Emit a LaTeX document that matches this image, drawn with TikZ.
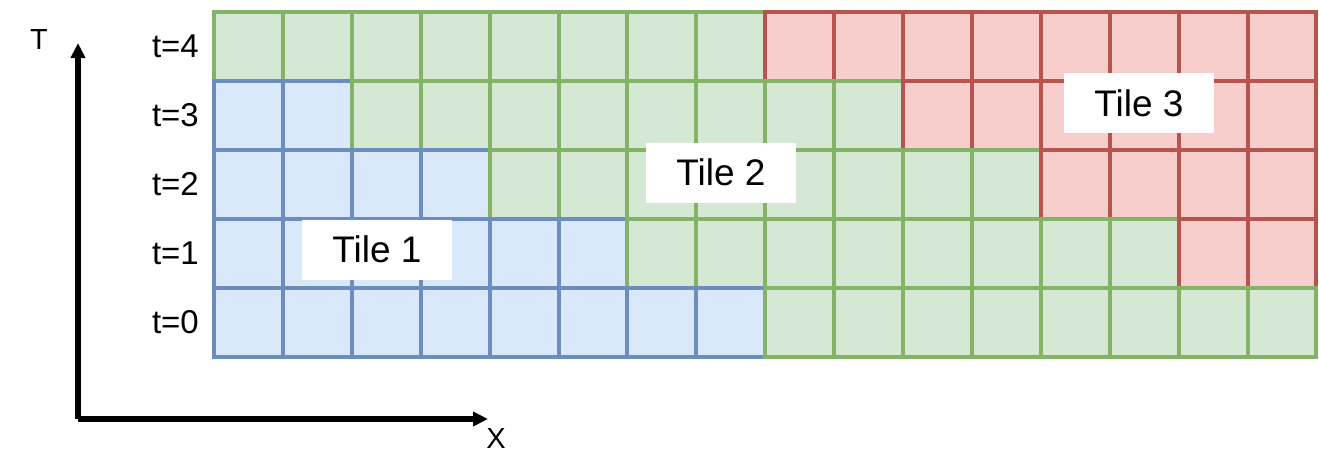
\documentclass[tikz,border=0pt]{standalone}
\usepackage{fontspec}
\setmainfont{Liberation Sans}
\usetikzlibrary{arrows.meta}
\definecolor{gfill}{HTML}{D5E8D4}
\definecolor{gline}{HTML}{82B366}
\definecolor{bfill}{HTML}{DAE8FC}
\definecolor{bline}{HTML}{6C8EBF}
\definecolor{rfill}{HTML}{F8CECC}
\definecolor{rline}{HTML}{B85450}
\tikzset{
  cellbase/.style={line width=4pt},
  bluecell/.style={cellbase, fill=bfill, draw=bline},
  greencell/.style={cellbase, fill=gfill, draw=gline},
  redcell/.style={cellbase, fill=rfill, draw=rline},
  tilelabel/.style={fill=white, minimum width=150pt, minimum height=60pt, inner sep=0pt, font=\fontsize{37}{40}\selectfont},
  rowlabel/.style={anchor=east, inner sep=0pt, font=\fontsize{33}{36}\selectfont},
  axislabel/.style={inner sep=0pt, font=\fontsize{29}{32}\selectfont},
  axis/.style={line width=6pt, line join=round, -{Triangle[length=15pt,width=14pt]}}
}
\begin{document}
\begin{tikzpicture}[x=1pt, y=-1pt]
\useasboundingbox (0,0) rectangle (1319,453);
\def\xo{214}\def\yo{12}\def\cw{68.9}\def\ch{69}
\foreach \r/\a/\b/\s in {
  0/0/7/greencell, 0/8/15/redcell,
  1/0/1/bluecell, 1/2/9/greencell, 1/10/15/redcell,
  2/0/3/bluecell, 2/4/11/greencell, 2/12/15/redcell,
  3/0/5/bluecell, 3/6/13/greencell, 3/14/15/redcell,
  4/0/7/bluecell, 4/8/15/greencell}{
  \foreach \c in {\a,...,\b}{
    \draw[\s] ({\xo+\c*\cw},{\yo+\r*\ch}) rectangle ++(\cw,\ch);
  }
}
\foreach \r/\t in {0/4,1/3,2/2,3/1,4/0}{
  \node[rowlabel] (row\t) at (199,{\yo+(\r+0.5)*\ch}) {t=\t};
}
\node[tilelabel] (tile1) at (377,249.5) {Tile 1};
\node[tilelabel] (tile2) at (721,172.5) {Tile 2};
\node[tilelabel] (tile3) at (1139,103) {Tile 3};
\coordinate (origin) at (78,419);
\coordinate (ttip) at (78,43);
\coordinate (xtip) at (488,419);
\draw[axis] (origin) -- (ttip);
\draw[axis] (origin) -- (xtip);
\node[axislabel] (tlabel) at (39,40) {T};
\node[axislabel] (xlabel) at (496,439) {X};
\end{tikzpicture}
\end{document}
